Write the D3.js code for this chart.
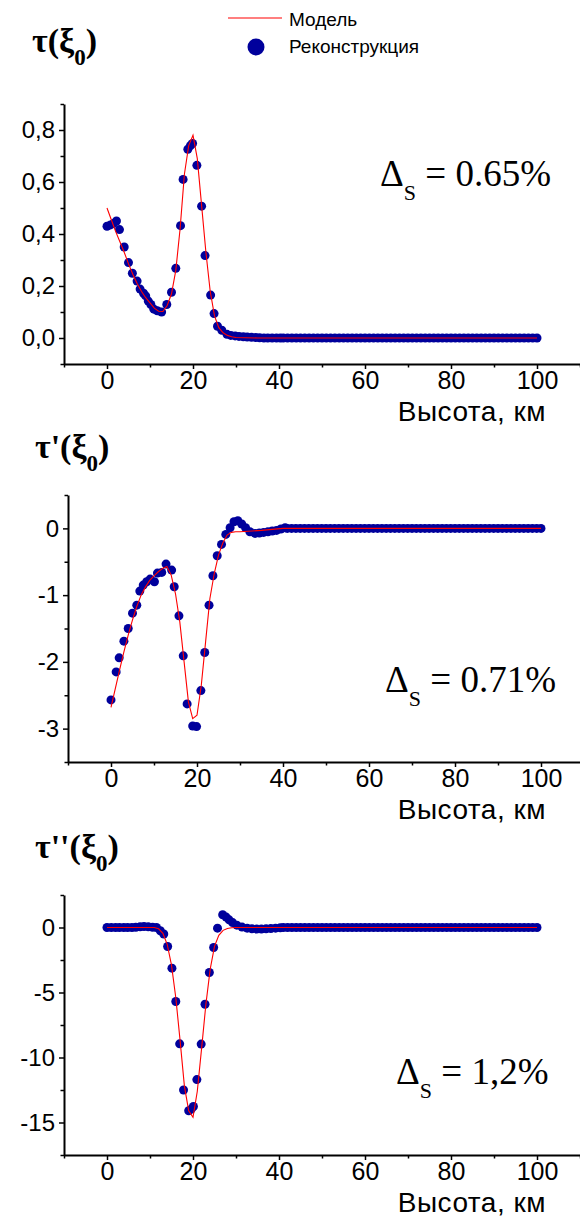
<!DOCTYPE html>
<html>
<head>
<meta charset="utf-8">
<script src="https://cdn.jsdelivr.net/npm/d3@7"></script>
<style>
	body { margin: 0; background: #fff; }
	svg { display: block; }
	.tick text { font-family: "Liberation Sans", Arial, sans-serif; font-size: 24px; fill: #000; }
</style>
</head>
<body>
<div id="chart"></div>
<script>
// model curve is sampled on a shared grid of heights (km)
const modelHeights = [0,1,2,3,4,5,6,7,8,9,10,11,12,13,14,15,16,17,18,19,20,21,22,23,24,25,26,27,28,29,30,35,40,100];

const model1 = [0.50,0.455,0.41,0.37,0.33,0.285,0.245,0.21,0.18,0.155,0.135,0.115,0.103,0.102,0.125,0.17,0.26,0.42,0.63,0.74,0.78,0.69,0.51,0.33,0.18,0.085,0.04,0.02,0.01,0.005,0.002,0,0,0];
const model2 = [-2.68,-2.4,-2.12,-1.85,-1.6,-1.37,-1.17,-1.0,-0.88,-0.78,-0.71,-0.65,-0.6,-0.57,-0.7,-0.98,-1.4,-2.0,-2.6,-2.85,-2.8,-2.35,-1.7,-1.05,-0.68,-0.4,-0.22,-0.1,-0.06,-0.05,-0.05,-0.03,0,0];
const model3 = [0,0,0,0,0,0,0,0,0,0,0,0,-0.1,-0.45,-1.3,-2.9,-5.4,-8.7,-12.2,-14.1,-14.6,-12.6,-9.3,-5.9,-3.2,-1.45,-0.6,-0.22,-0.08,-0.02,0,0,0,0];

// reconstruction, first 40 km read point by point
const recHeights1 = [0,0.8,1.5,2.2,2.9,4.0,5.0,5.9,7.0,7.7,8.5,9.0,9.6,10.2,10.9,11.7,12.7,13.9,15.0,16.0,17.1,17.7,18.8,19.4,19.9,20.9,22.0,22.8,24.1,24.9,25.7,26.7,27.9,28.8,29.8,30.7,31.7,32.6,33.6,34.6,35.5,36.5,37.4,38.4,39.4,40.3];
const recValues1 = [0.43,0.435,0.44,0.45,0.417,0.35,0.29,0.249,0.219,0.188,0.172,0.162,0.142,0.129,0.111,0.105,0.10,0.129,0.176,0.268,0.432,0.61,0.726,0.74,0.748,0.664,0.507,0.317,0.165,0.094,0.045,0.03,0.014,0.01,0.008,0.006,0.005,0.004,0.003,0.002,0.001,0,0,0,0,0];

const recHeights2 = [0,1.2,1.9,3.0,4.0,5.0,6.0,6.7,7.5,8.3,9.1,10.1,10.8,11.8,12.8,14.1,14.7,15.8,16.8,17.7,19.0,19.9,20.9,21.8,22.8,23.7,24.7,25.7,26.7,27.7,28.6,29.5,30.4,31.3,32.3,33.5,34.5,35.5,36.5,37.5,38.5,39.5,40.5];
const recValues2 = [-2.57,-2.15,-1.94,-1.69,-1.50,-1.27,-1.15,-0.94,-0.85,-0.80,-0.76,-0.80,-0.67,-0.66,-0.535,-0.625,-0.875,-1.31,-1.91,-2.63,-2.96,-2.97,-2.43,-1.86,-1.15,-0.71,-0.41,-0.24,-0.09,0.01,0.10,0.115,0.065,0.01,-0.05,-0.075,-0.07,-0.06,-0.05,-0.04,-0.03,-0.01,0.01];

const recHeights3 = [0,1,2,2.9,3.9,4.8,5.8,6.7,7.7,8.6,9.6,10.6,11.5,12.4,13.2,14.1,15.1,16.0,16.9,17.8,19.0,19.6,20.1,20.9,21.9,22.8,23.8,24.8,25.7,26.9,27.7,28.4,29.2,30.2,31.4,32.6,33.7,34.8,35.9,37.0,38.1,39.2,40.3];
const recValues3 = [0,0,0,0,0,0,0,0.02,0.05,0.08,0.05,0.02,0,-0.25,-0.5,-1.46,-3.13,-5.69,-8.95,-12.5,-14.1,-13.97,-13.77,-11.7,-8.97,-5.9,-3.46,-1.54,-0.05,0.98,0.80,0.59,0.38,0.18,0.03,-0.05,-0.1,-0.12,-0.12,-0.1,-0.08,-0.05,-0.02];

// above 40 km every panel sits on zero
const tailHeights = [41,42,43,44,45,46,47,48,49,50,51,52,53,54,55,56,57,58,59,60,61,62,63,64,65,66,67,68,69,70,71,72,73,74,75,76,77,78,79,80,81,82,83,84,85,86,87,88,89,90,91,92,93,94,95,96,97,98,99,100];
const tailValues = [0,0,0,0,0,0,0,0,0,0,0,0,0,0,0,0,0,0,0,0,0,0,0,0,0,0,0,0,0,0,0,0,0,0,0,0,0,0,0,0,0,0,0,0,0,0,0,0,0,0,0,0,0,0,0,0,0,0,0,0];

const xTicks = [-10,0,10,20,30,40,50,60,70,80,90,100,110];
const xLabels = [0,20,40,60,80,100];

const panels = [
	{ title: "τ", primes: "", delta: "0.65%", model: model1, recX: recHeights1, recY: recValues1,
	  yDomain: [-0.1, 0.9], yTicks: [-0.1,0,0.1,0.2,0.3,0.4,0.5,0.6,0.7,0.8,0.9], yLabels: [0,0.2,0.4,0.6,0.8], comma: true,
	  xRange: [64, 580], yRange: [364, 104], titlePos: [32, 52], deltaPos: [380, 186] },
	{ title: "τ", primes: "'", delta: "0.71%", model: model2, recX: recHeights2, recY: recValues2,
	  yDomain: [-3.5, 0.5], yTicks: [-3.5,-3,-2.5,-2,-1.5,-1,-0.5,0,0.5], yLabels: [-3,-2,-1,0], comma: false,
	  xRange: [68, 584], yRange: [762, 495], titlePos: [35, 458], deltaPos: [385, 692] },
	{ title: "τ", primes: "''", delta: "1,2%", model: model3, recX: recHeights3, recY: recValues3,
	  yDomain: [-17.5, 2.5], yTicks: [-17.5,-15,-12.5,-10,-7.5,-5,-2.5,0,2.5], yLabels: [-15,-10,-5,0], comma: false,
	  xRange: [64, 580], yRange: [1155, 895], titlePos: [35, 858], deltaPos: [396, 1084] }
];

const svg = d3.select("#chart").append("svg")
	.attr("width", 580)
	.attr("height", 1226);

function drawPanel(p) {
	const x = d3.scaleLinear().domain([-10, 110]).range(p.xRange);
	const y = d3.scaleLinear().domain(p.yDomain).range(p.yRange);
	const g = svg.append("g");

	// axes, minor ticks shorter and unlabeled
	const xAxis = d3.axisBottom(x)
		.tickValues(xTicks)
		.tickSize(5)
		.tickSizeOuter(0)
		.tickPadding(2)
		.tickFormat(d => xLabels.includes(d) ? d : "");
	const gx = g.append("g")
		.attr("transform", `translate(0,${p.yRange[0]})`)
		.call(xAxis);
	gx.selectAll(".tick").filter(d => !xLabels.includes(d)).select("line").attr("y2", 3.5);
	gx.selectAll(".tick text").attr("dy", "0.72em").style("font-size", "25px");

	const fmt = d => p.comma ? d3.format(".1f")(d).replace(".", ",") : d3.format("d")(d).replace("−", "-");
	const yAxis = d3.axisLeft(y)
		.tickValues(p.yTicks)
		.tickSize(5)
		.tickSizeOuter(0)
		.tickPadding(4)
		.tickFormat(d => p.yLabels.some(v => Math.abs(v - d) < 1e-9) ? fmt(d) : "");
	const gy = g.append("g")
		.attr("transform", `translate(${p.xRange[0]},0)`)
		.call(yAxis);
	gy.selectAll(".tick").filter(d => !p.yLabels.some(v => Math.abs(v - d) < 1e-9)).select("line").attr("x2", -3.5);

	[gx, gy].forEach(a => {
		a.select(".domain").attr("stroke", "#000").attr("stroke-width", 2);
		a.selectAll(".tick line").attr("stroke", "#000").attr("stroke-width", 1.5);
	});

	g.append("text")
		.attr("x", 546)
		.attr("y", p.yRange[0] + 57)
		.attr("text-anchor", "end")
		.style("font-family", "'Liberation Sans', Arial, sans-serif")
		.style("font-size", "28px")
		.style("letter-spacing", "0.5px")
		.text("Высота, км");

	// reconstruction dots
	const recX = p.recX.concat(tailHeights);
	const recY = p.recY.concat(tailValues);
	g.append("g")
		.selectAll("circle")
		.data(recX)
		.enter()
		.append("circle")
		.attr("cx", d => x(d))
		.attr("cy", (d, i) => y(recY[i]))
		.attr("r", 4.5)
		.attr("fill", "#00009c");

	// model curve
	const line = d3.line()
		.x(d => x(d))
		.y((d, i) => y(p.model[i]));
	g.append("path")
		.datum(modelHeights)
		.attr("d", line)
		.attr("fill", "none")
		.attr("stroke", "#ff0000")
		.attr("stroke-width", 1.1);

	// panel title tau(xi_0)
	const t = g.append("text")
		.attr("x", p.titlePos[0])
		.attr("y", p.titlePos[1])
		.style("font-family", "'Liberation Serif', 'Times New Roman', serif")
		.style("font-weight", "bold")
		.style("font-size", "34px");
	t.append("tspan").text(p.title + p.primes + "(ξ");
	t.append("tspan").attr("dy", 13).style("font-size", "23px").text("0");
	t.append("tspan").attr("dy", -13).text(")");

	// error label
	const dl = g.append("text")
		.attr("x", p.deltaPos[0])
		.attr("y", p.deltaPos[1])
		.style("font-family", "'Liberation Serif', 'Times New Roman', serif")
		.style("font-size", "37px");
	dl.append("tspan").text("Δ");
	dl.append("tspan").attr("dy", 14).style("font-size", "22px").text("S");
	dl.append("tspan").attr("dy", -14).text(" = " + p.delta);
}

panels.forEach(drawPanel);

// legend
const legend = svg.append("g");
legend.append("line")
	.attr("x1", 228).attr("x2", 282)
	.attr("y1", 18).attr("y2", 18)
	.attr("stroke", "#ff0000")
	.attr("stroke-width", 1.1);
legend.append("circle")
	.attr("cx", 256).attr("cy", 47)
	.attr("r", 8.5)
	.attr("fill", "#00009c");
legend.selectAll(".legend-label")
	.data(["Модель", "Реконструкция"])
	.enter()
	.append("text")
	.attr("x", 289)
	.attr("y", (d, i) => 26 + i * 27)
	.style("font-family", "'Liberation Sans', Arial, sans-serif")
	.style("font-size", "19px")
	.text(d => d);
</script>
</body>
</html>
